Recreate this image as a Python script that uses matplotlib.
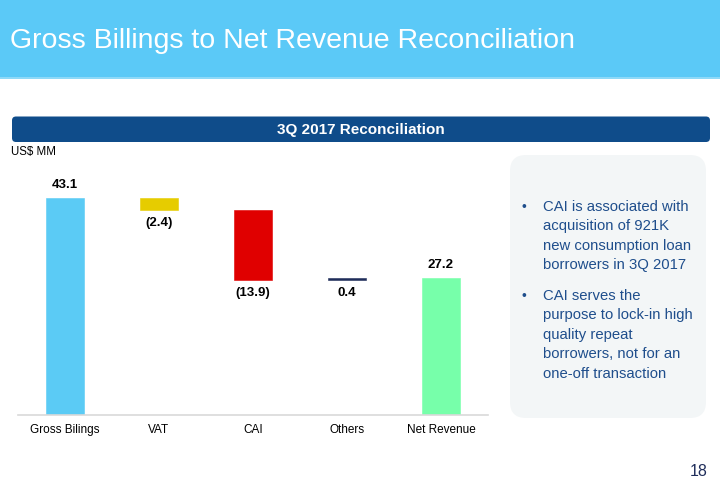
import matplotlib
matplotlib.use("Agg")
import matplotlib.pyplot as plt
from matplotlib.patches import FancyBboxPatch, Rectangle

plt.rcParams['font.family'] = ['Liberation Sans', 'DejaVu Sans']

# ---- data ----
categories = ["Gross Bilings", "VAT", "CAI", "Others", "Net Revenue"]
values = [43.1, -2.4, -13.9, 0.4, 27.2]
value_labels = ["43.1", "(2.4)", "(13.9)", "0.4", "27.2"]
is_total = [True, False, False, False, True]
bar_colors = ["#5BCBF5", "#E6CC00", "#E00000", "#1F2D5A", "#77FFAA"]

title = "Gross Billings to Net Revenue Reconciliation"
subtitle = "3Q 2017 Reconciliation"
unit_label = "US$ MM"
bullets = [
    ["CAI is associated with", "acquisition of 921K", "new consumption loan", "borrowers in 3Q 2017"],
    ["CAI serves the", "purpose to lock-in high", "quality repeat", "borrowers, not for an", "one-off transaction"],
]
page_number = "18"

W, H = 720, 498
fig = plt.figure(figsize=(W / 100, H / 100), dpi=100)

# overlay axes in pixel coordinates
ov = fig.add_axes([0, 0, 1, 1])
ov.set_xlim(0, W)
ov.set_ylim(H, 0)
ov.axis('off')

# header band
ov.add_patch(Rectangle((0, 0), W, 79, facecolor="#5BC9F7", edgecolor="none"))
ov.add_patch(Rectangle((0, 77), W, 2, facecolor="#8ED9F8", edgecolor="none"))
ov.text(10, 41, title, color="white", fontsize=20.5, va="center", ha="left")

# subtitle bar
ov.add_patch(FancyBboxPatch((12, 116.5), 698, 25.5, boxstyle="round,pad=0,rounding_size=4",
                            facecolor="#0F4C8A", edgecolor="none"))
ov.text(361, 129.5, subtitle, color="white", fontsize=11, fontweight="bold",
        ha="center", va="center")
ov.text(11, 152, unit_label, color="black", fontsize=8.3, ha="left", va="center")

# right panel
ov.add_patch(FancyBboxPatch((510, 155), 196, 263, boxstyle="round,pad=0,rounding_size=16",
                            facecolor="#F3F6F7", edgecolor="none"))
text_col = "#1F4E8C"
y = 206.5
for group in bullets:
    ov.text(524, y, "\u2022", color=text_col, fontsize=10, ha="center", va="center")
    for line in group:
        ov.text(543, y, line, color=text_col, fontsize=10.7, ha="left", va="center")
        y += 19.5
    y += 11

ov.text(708, 471, page_number, color="#1F2D5A", fontsize=11.5, ha="right", va="center")

# ---- waterfall chart ----
ax_left, ax_right = 18, 488
ax_bottom, ax_top = 415, 180
ax = fig.add_axes([ax_left / W, (H - ax_bottom) / H, (ax_right - ax_left) / W, (ax_bottom - ax_top) / H])
ax.patch.set_alpha(0)

bottoms, heights = [], []
running = 0.0
for v, tot in zip(values, is_total):
    if tot:
        bottoms.append(0.0)
        heights.append(v)
        running = v
    else:
        if v < 0:
            bottoms.append(running + v)
        else:
            bottoms.append(running)
        heights.append(abs(v))
        running += v

xs = list(range(len(categories)))
ax.bar(xs, heights, bottom=bottoms, width=0.395, color=bar_colors,
       edgecolor=bar_colors, linewidth=0.4)

for x, b, h, lab, tot, v in zip(xs, bottoms, heights, value_labels, is_total, values):
    if tot:
        ax.annotate(lab, (x, b + h), xytext=(0, 5), textcoords="offset points",
                    ha="center", va="bottom", fontsize=9.5, fontweight="bold")
    else:
        ax.annotate(lab, (x, b), xytext=(0, -5), textcoords="offset points",
                    ha="center", va="top", fontsize=9.5, fontweight="bold")

ax.set_xlim(-0.5, 4.5)
ax.set_ylim(0, 46.7)
ax.set_xticks(xs)
ax.set_xticklabels(categories, fontsize=8.5)
ax.tick_params(axis='x', length=0, pad=6.5)
ax.set_yticks([])
for s in ["top", "left", "right"]:
    ax.spines[s].set_visible(False)
ax.spines["bottom"].set_color("#D9D9D9")
ax.spines["bottom"].set_linewidth(1.2)

fig.savefig("out.png", dpi=100)
